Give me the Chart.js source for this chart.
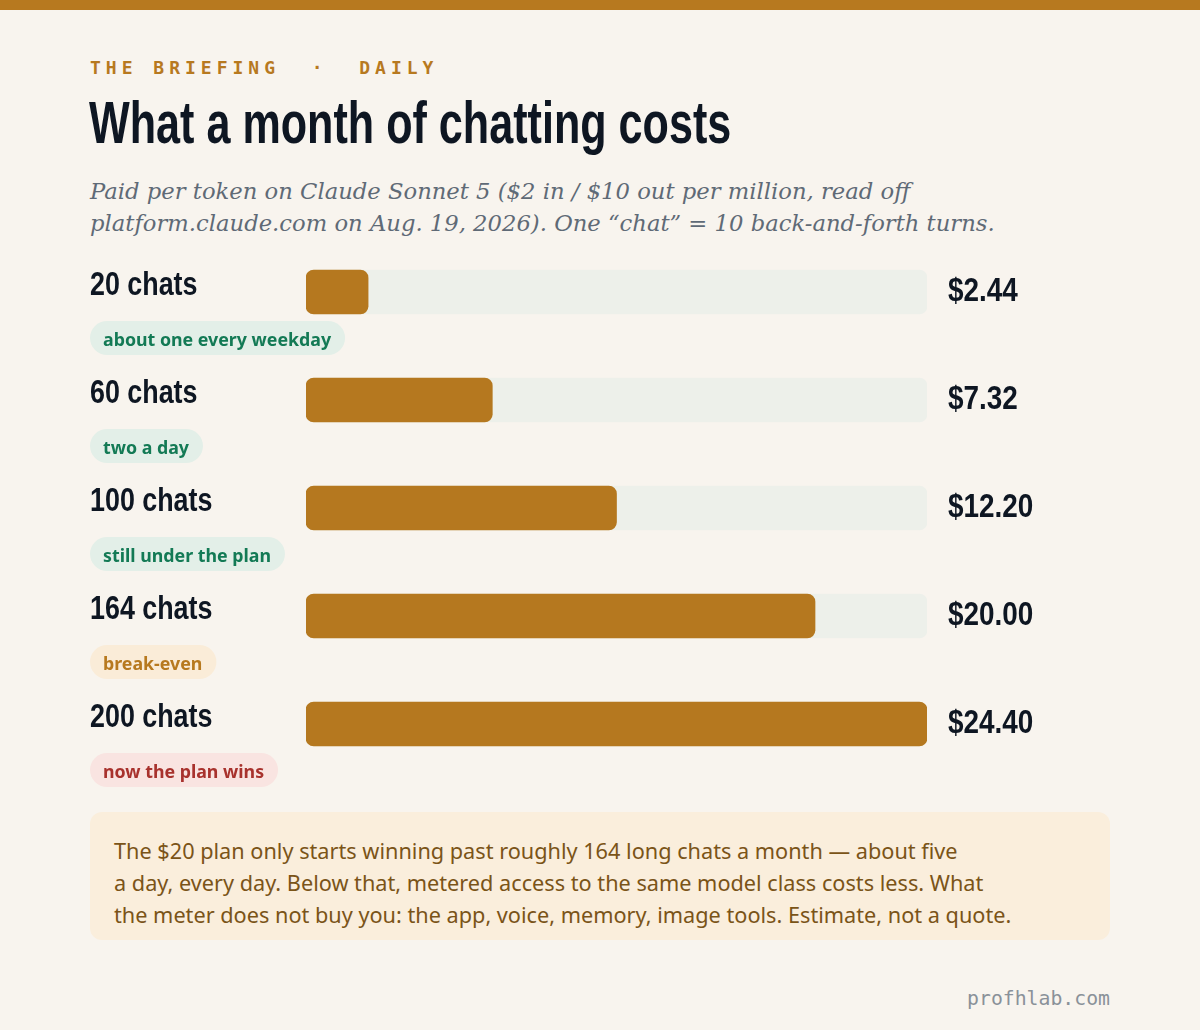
<!DOCTYPE html>
<html>
<head>
<meta charset="utf-8">
<script src="https://cdn.jsdelivr.net/npm/chart.js@4"></script>
<style>
  html, body { margin: 0; padding: 0; }
  body { width: 1200px; height: 1030px; background: #f8f4ee; position: relative; overflow: hidden; }
  .topbar { position: absolute; left: 0; top: 0; width: 1200px; height: 10px; background: #b7791f; }
  .eyebrow { position: absolute; left: 90px; top: 57px; font: bold 18px "DejaVu Sans Mono", monospace; letter-spacing: 5px; color: #b7791f; white-space: pre; }
  h1 { position: absolute; left: 89px; top: 93px; margin: 0; font: bold 60px/1 "Liberation Sans", sans-serif; color: #0e1622; white-space: nowrap; transform: scaleX(0.719); transform-origin: 0 0; }
  .sub { position: absolute; left: 90px; top: 175px; font: italic 22.7px/32px "DejaVu Serif", serif; color: #5f6a76; }
  #wrap { position: absolute; left: 90px; top: 230px; width: 1020px; height: 570px; }
  .note { position: absolute; left: 90px; top: 812px; width: 1020px; height: 128px; background: #faeedc; border-radius: 12px; }
  .note p { margin: 0; padding: 23px 24px; font: 21.7px/32px "Noto Sans", sans-serif; color: #7a5418; white-space: nowrap; }
  .foot { position: absolute; right: 90px; top: 987px; font: 19.8px "DejaVu Sans Mono", monospace; color: #8a9199; }
</style>
</head>
<body>
<div class="topbar"></div>
<div class="eyebrow">THE BRIEFING  ·  DAILY</div>
<h1>What a month of chatting costs</h1>
<div class="sub">Paid per token on Claude Sonnet 5 ($2 in / $10 out per million, read off<br>platform.claude.com on Aug. 19, 2026). One “chat” = 10 back-and-forth turns.</div>
<div id="wrap"><canvas id="chart"></canvas></div>
<div class="note"><p>The $20 plan only starts winning past roughly 164 long chats a month — about five<br>a day, every day. Below that, metered access to the same model class costs less. What<br>the meter does not buy you: the app, voice, memory, image tools. Estimate, not a quote.</p></div>
<div class="foot">profhlab.com</div>
<script>
const categories = ['20 chats', '60 chats', '100 chats', '164 chats', '200 chats'];
const costs = [2.44, 7.32, 12.20, 20.00, 24.40];
const notes = ['about one every weekday', 'two a day', 'still under the plan', 'break-even', 'now the plan wins'];
const noteKinds = ['under', 'under', 'under', 'even', 'over'];

const trackMax = Math.max(...costs);
const pillStyles = {
  under: { bg: '#e3efe8', fg: '#137a55' },
  even: { bg: '#faecd8', fg: '#b7791f' },
  over: { bg: '#f9e4e1', fg: '#a8322d' }
};

// narrow bold text: no condensed face installed, so squeeze a regular one
function narrowText(ctx, text, x, y, sx) {
  ctx.save();
  ctx.translate(x, y);
  ctx.scale(sx, 1);
  ctx.fillText(text, 0, 0);
  ctx.restore();
}

const rowText = {
  id: 'rowText',
  afterDatasetsDraw(chart) {
    const ctx = chart.ctx;
    const area = chart.chartArea;
    const bars = chart.getDatasetMeta(1).data;
    ctx.save();
    bars.forEach((bar, i) => {
      const y = bar.y;
      ctx.fillStyle = '#0e1622';
      ctx.font = 'bold 34px "Liberation Sans", sans-serif';
      ctx.textBaseline = 'alphabetic';
      ctx.textAlign = 'left';
      narrowText(ctx, categories[i], 0, y + 3, 0.79);
      narrowText(ctx, '$' + costs[i].toFixed(2), area.right + 21, y + 9, 0.82);
      // pill
      const st = pillStyles[noteKinds[i]];
      ctx.font = 'bold 17.8px "Noto Sans", sans-serif';
      const w = ctx.measureText(notes[i]).width + 27;
      const top = y + 29;
      ctx.fillStyle = st.bg;
      ctx.beginPath();
      ctx.roundRect(0, top, w, 34, 17);
      ctx.fill();
      ctx.fillStyle = st.fg;
      ctx.textBaseline = 'middle';
      ctx.fillText(notes[i], 13, top + 20);
    });
    ctx.restore();
  }
};

new Chart(document.getElementById('chart'), {
  type: 'bar',
  data: {
    labels: categories,
    datasets: [
      {
        label: 'track',
        data: categories.map(() => trackMax),
        backgroundColor: '#edf0ea',
        borderRadius: 8,
        borderSkipped: false,
        barThickness: 44,
        grouped: false,
        order: 2
      },
      {
        label: 'Monthly cost',
        data: costs,
        backgroundColor: '#b5781f',
        borderRadius: 8,
        borderSkipped: false,
        barThickness: 44,
        grouped: false,
        order: 1
      }
    ]
  },
  options: {
    indexAxis: 'y',
    responsive: true,
    maintainAspectRatio: false,
    animation: false,
    layout: { padding: { left: 216, right: 183, top: 8, bottom: 22 } },
    scales: {
      x: { display: false, min: 0, max: trackMax },
      y: { display: false }
    },
    plugins: { legend: { display: false }, tooltip: { enabled: false } }
  },
  plugins: [rowText]
});
</script>
</body>
</html>
